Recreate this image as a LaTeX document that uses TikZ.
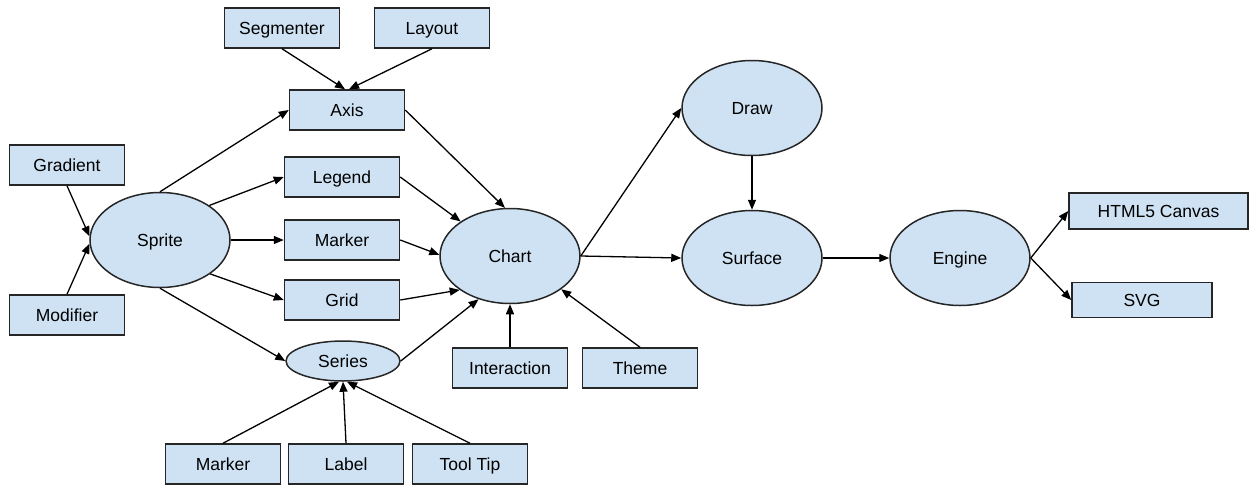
\documentclass[tikz,border=0pt]{standalone}
\usepackage{fontspec}
\setmainfont{Liberation Sans}
\usetikzlibrary{shapes.geometric,arrows.meta}
\definecolor{boxfill}{HTML}{CFE2F3}
\definecolor{boxline}{HTML}{262626}
\tikzset{
  x=1pt,y=-1pt,
  every node/.style={font=\fontsize{17.5}{21}\selectfont,text height=12.5pt,text depth=0pt},
  rbox/.style={rectangle,draw=boxline,fill=boxfill,line width=1.5pt,
    minimum width=115pt,minimum height=40pt,inner sep=0pt},
  ebox/.style={ellipse,draw=boxline,fill=boxfill,line width=1.5pt,
    minimum width=140pt,minimum height=95pt,inner sep=0pt},
  link/.style={draw=black,line width=1.3pt,-{Triangle[length=10pt,width=8pt]}}
}
\begin{document}
\begin{tikzpicture}
\useasboundingbox (0,0) rectangle (1252,485);
% boxes
\node[rbox] (segmenter) at (282,28) {Segmenter};
\node[rbox] (layout) at (432,28) {Layout};
\node[rbox] (axis) at (347,110) {Axis};
\node[rbox] (gradient) at (67,165) {Gradient};
\node[rbox] (legend) at (342,177) {Legend};
\node[rbox] (marker) at (342,240) {Marker};
\node[rbox] (grid) at (342,300) {Grid};
\node[rbox] (modifier) at (67,315) {Modifier};
\node[rbox] (interaction) at (510,368) {Interaction};
\node[rbox] (theme) at (640,368) {Theme};
\node[rbox] (marker2) at (223,464) {Marker};
\node[rbox] (label) at (346,464) {Label};
\node[rbox] (tooltip) at (470,464) {Tool Tip};
\node[rbox,minimum width=179pt,minimum height=36pt] (html) at (1158.5,211) {HTML5 Canvas};
\node[rbox,minimum width=140pt,minimum height=35pt] (svg) at (1142,300) {SVG};
% ellipses
\node[ebox] (sprite) at (160,240) {Sprite};
\node[ebox] (chart) at (510,256) {Chart};
\node[ebox] (draw) at (752,108) {Draw};
\node[ebox] (surface) at (752,258) {Surface};
\node[ebox] (engine) at (960,258) {Engine};
\node[ebox,minimum width=114pt,minimum height=40pt] (series) at (343,361) {Series};
% connectors
\draw[link] (segmenter.south) -- ([xshift=-2pt]axis.north);
\draw[link] (layout.south) -- ([xshift=2pt]axis.north);
\draw[link] (gradient.south) -- (sprite.177);
\draw[link] (modifier.north) -- (sprite.183);
\draw[link] (sprite.north) -- (axis.west);
\draw[link] (sprite.35) -- (legend.west);
\draw[link] (sprite.east) -- (marker.west);
\draw[link] (sprite.326) -- (grid.west);
\draw[link] (sprite.south) -- (series.west);
\draw[link] (axis.east) -- (chart.96);
\draw[link] (legend.east) -- (chart.145);
\draw[link] (marker.east) -- (chart.179);
\draw[link] (grid.east) -- (chart.214);
\draw[link] (series.east) -- (chart.234);
\draw[link] (interaction.north) -- (chart.south);
\draw[link] (theme.north) -- (chart.327);
\draw[link] (marker2.north) -- ([xshift=-4pt]series.south);
\draw[link] (label.north) -- (series.south);
\draw[link] (tooltip.north) -- ([xshift=4pt]series.south);
\draw[link] (chart.east) -- (draw.west);
\draw[link] (chart.east) -- (surface.west);
\draw[link] (draw.south) -- (surface.north);
\draw[link] (surface.east) -- (engine.west);
\draw[link] (engine.east) -- (html.west);
\draw[link] (engine.east) -- (svg.west);
\end{tikzpicture}
\end{document}
